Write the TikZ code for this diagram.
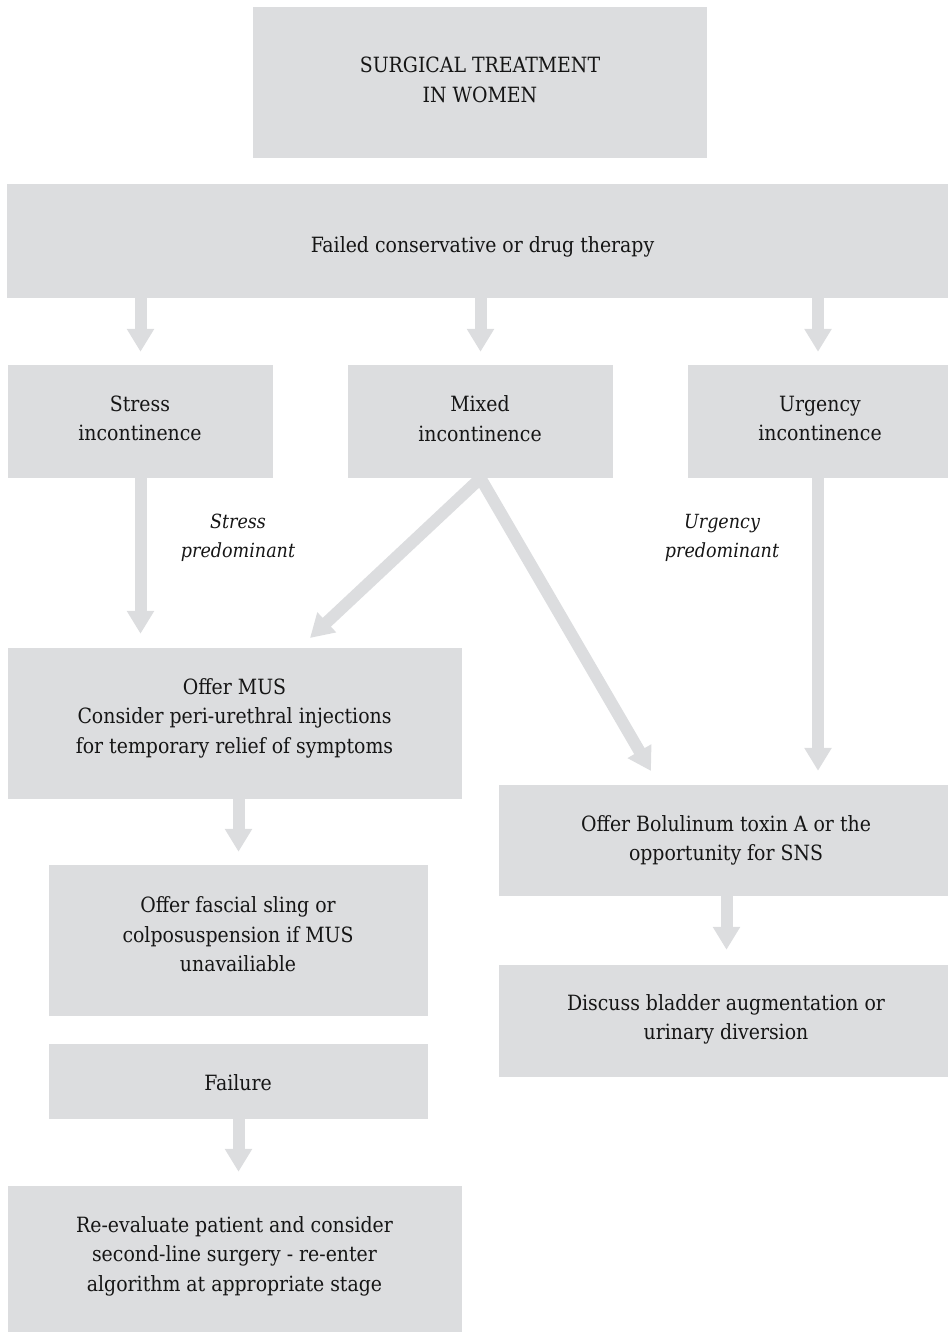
\documentclass[tikz,border=0pt]{standalone}
\usepackage{fontspec}
\setmainfont{DejaVu Serif Condensed}
\usetikzlibrary{arrows.meta}
\definecolor{boxgray}{HTML}{DCDDDF}
\definecolor{txt}{HTML}{151515}
\begin{document}
\begin{tikzpicture}[x=1pt,y=-1pt,
  box/.style={fill=boxgray,inner sep=0pt},
  tx/.style={inner sep=0pt,align=center,text=txt,
    font=\fontsize{21}{29.5}\selectfont},
  lbl/.style={inner sep=0pt,align=center,text=txt,
    font=\fontsize{19.5}{29.5}\selectfont\itshape},
  bigarrow/.style={draw=boxgray,line width=12pt,
    -{Triangle[width=26pt,length=23pt,fill=boxgray]}}]
\useasboundingbox (0,0) rectangle (948,1333);
% boxes
\node[box,minimum width=454pt,minimum height=151pt] (title) at (480,82.5) {};
\node[box,minimum width=941pt,minimum height=114pt] (fail) at (477.5,241) {};
\node[box,minimum width=265pt,minimum height=113pt] (stress) at (140.5,421.5) {};
\node[box,minimum width=265pt,minimum height=113pt] (mixed) at (480.5,421.5) {};
\node[box,minimum width=260pt,minimum height=113pt] (urg) at (818,421.5) {};
\node[box,minimum width=454pt,minimum height=151pt] (mus) at (235,723.5) {};
\node[box,minimum width=379pt,minimum height=151pt] (fascial) at (238.5,940.5) {};
\node[box,minimum width=379pt,minimum height=75pt] (failure) at (238.5,1081.5) {};
\node[box,minimum width=454pt,minimum height=146pt] (reeval) at (235,1259) {};
\node[box,minimum width=449pt,minimum height=111pt] (bol) at (723.5,840.5) {};
\node[box,minimum width=449pt,minimum height=112pt] (disc) at (723.5,1021) {};
% texts
\node[tx] (titleT) at (480,80) {SURGICAL TREATMENT\\IN WOMEN};
\node[tx] (failT) at (482.5,247) {Failed conservative or drug therapy};
\node[tx] (stressT) at (140,418.5) {Stress\\incontinence};
\node[tx] (mixedT) at (480,418.5) {Mixed\\incontinence};
\node[tx] (urgT) at (820,418.5) {Urgency\\incontinence};
\node[tx] (musT) at (234.5,718)
  {Offer MUS\\Consider peri-urethral injections\\for temporary relief of symptoms};
\node[tx] (fascialT) at (238,934.5)
  {Offer fascial sling or\\colposuspension if MUS\\unavailiable};
\node[tx] (failureT) at (238,1083) {Failure};
\node[tx] (reevalT) at (234.5,1256)
  {Re-evaluate patient and consider\\second-line surgery - re-enter\\algorithm at appropriate stage};
\node[tx] (bolT) at (726,840.5) {Offer Bolulinum toxin A or the\\opportunity for SNS};
\node[tx] (discT) at (726,1019.5) {Discuss bladder augmentation or\\urinary diversion};
\node[lbl] (lstress) at (238,538) {Stress\\predominant};
\node[lbl] (lurg) at (722,538) {Urgency\\predominant};
% arrows
\coordinate (d1) at (310,638);
\coordinate (d2) at (651,771);
\draw[bigarrow,shorten >=13pt] (fail.south -| stress.north) -- (stress.north);
\draw[bigarrow,shorten >=13pt] (fail.south -| mixed.north) -- (mixed.north);
\draw[bigarrow,shorten >=13pt] (fail.south -| urg.north) -- (urg.north);
\draw[bigarrow,shorten >=14pt] (stress.south) -- (stress.south |- mus.north);
\draw[bigarrow] (mixed.south) -- (d1);
\draw[bigarrow] (mixed.south) -- (d2);
\draw[bigarrow,shorten >=14pt] (urg.south) -- (urg.south |- bol.north);
\draw[bigarrow,shorten >=13pt] (fascial.north |- mus.south) -- (fascial.north);
\draw[bigarrow,shorten >=14pt] (failure.south) -- (failure.south |- reeval.north);
\draw[bigarrow,shorten >=15pt] ([xshift=3pt]bol.south) -- ([xshift=3pt]disc.north);
\end{tikzpicture}
\end{document}
